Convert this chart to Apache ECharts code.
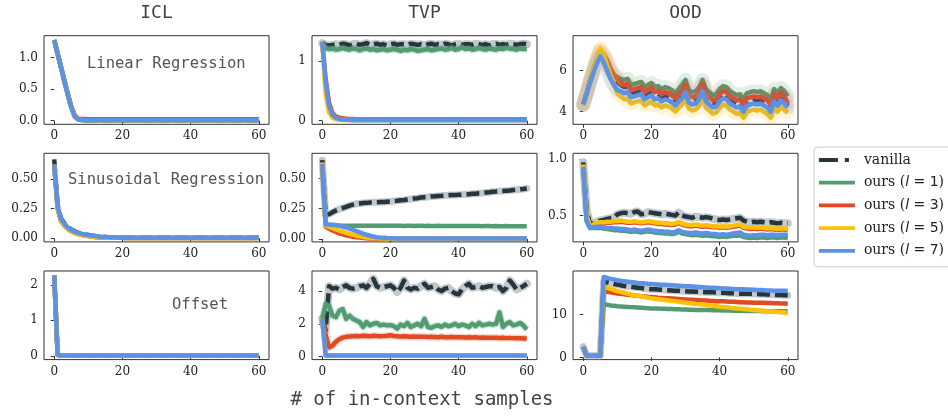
<!DOCTYPE html>
<html>
<head>
<meta charset="utf-8">
<script src="https://cdn.jsdelivr.net/npm/echarts@6/dist/echarts.min.js"></script>
<style>
  html, body { margin: 0; padding: 0; background: #ffffff; }
  #chart { width: 948px; height: 416px; }
</style>
</head>
<body>
<div id="chart"></div>
<script>
// ---------------------------------------------------------------------------
// Data: loss versus number of in-context samples (0 .. 60)
// ---------------------------------------------------------------------------
const samples = Array.from({ length: 61 }, (_, i) => i);

const columnTitles = ['ICL', 'TVP', 'OOD'];
const taskNames = ['Linear Regression', 'Sinusoidal Regression', 'Offset'];
const xTicks = [0, 20, 40, 60];

// y tick labels, one list per panel (row-major)
const yTicksLinICL = [0, 0.5, 1.0];
const yTicksLinTVP = [0, 1];
const yTicksLinOOD = [4, 6];
const yTicksSinICL = [0, 0.25, 0.5];
const yTicksSinTVP = [0, 0.25, 0.5];
const yTicksSinOOD = [0.5, 1.0];
const yTicksOffICL = [0, 1, 2];
const yTicksOffTVP = [0, 2, 4];
const yTicksOffOOD = [0, 10];

// ---- Linear regression -----------------------------------------------------
const iclLinearMain = [
  1.28, 1.06, 0.84, 0.62, 0.41, 0.21, 0.07, 0.02, 0.01, 0.008,
  0.007, 0.007, 0.007, 0.007, 0.007, 0.007, 0.007, 0.007, 0.007, 0.007,
  0.007, 0.007, 0.007, 0.007, 0.007, 0.007, 0.007, 0.007, 0.007, 0.007,
  0.007, 0.007, 0.007, 0.007, 0.007, 0.007, 0.007, 0.007, 0.007, 0.007,
  0.007, 0.007, 0.007, 0.007, 0.007, 0.007, 0.007, 0.007, 0.007, 0.007,
  0.007, 0.007, 0.007, 0.007, 0.007, 0.007, 0.007, 0.007, 0.007, 0.007,
  0.007
];
const iclLinearL3 = [
  1.28, 1.07, 0.86, 0.64, 0.43, 0.23, 0.09, 0.035, 0.028, 0.026,
  0.025, 0.025, 0.025, 0.025, 0.025, 0.025, 0.025, 0.025, 0.025, 0.025,
  0.025, 0.025, 0.025, 0.025, 0.025, 0.025, 0.025, 0.025, 0.025, 0.025,
  0.025, 0.025, 0.025, 0.025, 0.025, 0.025, 0.025, 0.025, 0.025, 0.025,
  0.025, 0.025, 0.025, 0.025, 0.025, 0.025, 0.025, 0.025, 0.025, 0.025,
  0.025, 0.025, 0.025, 0.025, 0.025, 0.025, 0.025, 0.025, 0.025, 0.025,
  0.025
];

const tvpLinearVanilla = [
  1.30, 1.27, 1.26, 1.27, 1.28, 1.27, 1.29, 1.28, 1.26, 1.28,
  1.29, 1.27, 1.28, 1.30, 1.27, 1.28, 1.29, 1.27, 1.28, 1.26,
  1.28, 1.29, 1.27, 1.28, 1.28, 1.27, 1.29, 1.28, 1.27, 1.28,
  1.26, 1.28, 1.29, 1.27, 1.28, 1.27, 1.29, 1.28, 1.26, 1.28,
  1.29, 1.27, 1.28, 1.28, 1.27, 1.29, 1.28, 1.27, 1.28, 1.26,
  1.28, 1.29, 1.27, 1.28, 1.27, 1.29, 1.28, 1.27, 1.28, 1.29,
  1.28
];
const tvpLinearL1 = [
  1.30, 1.22, 1.20, 1.21, 1.19, 1.20, 1.22, 1.20, 1.19, 1.21,
  1.20, 1.18, 1.20, 1.21, 1.19, 1.20, 1.18, 1.19, 1.20, 1.18,
  1.19, 1.20, 1.19, 1.17, 1.19, 1.18, 1.20, 1.19, 1.17, 1.18,
  1.19, 1.20, 1.18, 1.19, 1.20, 1.21, 1.19, 1.20, 1.22, 1.19,
  1.20, 1.23, 1.20, 1.21, 1.19, 1.20, 1.22, 1.20, 1.19, 1.21,
  1.20, 1.19, 1.21, 1.20, 1.22, 1.21, 1.20, 1.19, 1.21, 1.20,
  1.20
];
const tvpLinearL3 = [
  1.32, 0.70, 0.30, 0.13, 0.07, 0.05, 0.04, 0.035, 0.03, 0.028,
  0.025, 0.025, 0.025, 0.025, 0.025, 0.025, 0.025, 0.025, 0.025, 0.025,
  0.025, 0.025, 0.025, 0.025, 0.025, 0.025, 0.025, 0.025, 0.025, 0.025,
  0.025, 0.025, 0.025, 0.025, 0.025, 0.025, 0.025, 0.025, 0.025, 0.025,
  0.025, 0.025, 0.025, 0.025, 0.025, 0.025, 0.025, 0.025, 0.025, 0.025,
  0.025, 0.025, 0.025, 0.025, 0.025, 0.025, 0.025, 0.025, 0.025, 0.025,
  0.025
];
const tvpLinearL5 = [
  1.30, 0.45, 0.14, 0.05, 0.025, 0.015, 0.012, 0.01, 0.01, 0.01,
  0.01, 0.01, 0.01, 0.01, 0.01, 0.01, 0.01, 0.01, 0.01, 0.01,
  0.01, 0.01, 0.01, 0.01, 0.01, 0.01, 0.01, 0.01, 0.01, 0.01,
  0.01, 0.01, 0.01, 0.01, 0.01, 0.01, 0.01, 0.01, 0.01, 0.01,
  0.01, 0.01, 0.01, 0.01, 0.01, 0.01, 0.01, 0.01, 0.01, 0.01,
  0.01, 0.01, 0.01, 0.01, 0.01, 0.01, 0.01, 0.01, 0.01, 0.01,
  0.01
];
const tvpLinearL7 = [
  1.32, 0.65, 0.25, 0.10, 0.05, 0.03, 0.02, 0.015, 0.01, 0.008,
  0.007, 0.007, 0.007, 0.007, 0.007, 0.007, 0.007, 0.007, 0.007, 0.007,
  0.007, 0.007, 0.007, 0.007, 0.007, 0.007, 0.007, 0.007, 0.007, 0.007,
  0.007, 0.007, 0.007, 0.007, 0.007, 0.007, 0.007, 0.007, 0.007, 0.007,
  0.007, 0.007, 0.007, 0.007, 0.007, 0.007, 0.007, 0.007, 0.007, 0.007,
  0.007, 0.007, 0.007, 0.007, 0.007, 0.007, 0.007, 0.007, 0.007, 0.007,
  0.007
];

const oodLinearVanilla = [
  4.35, 4.90, 5.50, 6.05, 6.55, 6.95, 6.70, 6.30, 5.90, 5.65,
  5.45, 5.30, 5.20, 5.20, 4.90, 4.95, 5.00, 5.05, 4.80, 4.90,
  5.00, 4.80, 4.85, 4.70, 4.80, 4.75, 4.65, 4.50, 4.70, 4.85,
  5.15, 4.65, 4.55, 4.60, 4.80, 5.20, 4.70, 4.55, 4.40, 4.45,
  4.70, 4.85, 4.80, 4.60, 4.50, 4.40, 4.45, 4.20, 4.50, 4.55,
  4.60, 4.55, 4.60, 4.50, 4.40, 4.20, 4.70, 4.50, 4.75, 4.60,
  4.30
];
const oodLinearL1 = [
  4.35, 4.90, 5.50, 6.00, 6.50, 6.85, 6.60, 6.30, 6.00, 5.80,
  5.70, 5.60, 5.55, 5.60, 5.30, 5.35, 5.40, 5.45, 5.20, 5.30,
  5.40, 5.20, 5.25, 5.10, 5.20, 5.15, 5.05, 4.90, 5.10, 5.30,
  5.55, 5.05, 4.95, 5.00, 5.20, 5.55, 5.10, 4.95, 4.80, 4.85,
  5.10, 5.25, 5.20, 5.00, 4.90, 4.80, 4.85, 4.60, 4.90, 4.95,
  5.00, 4.95, 5.00, 4.90, 4.80, 4.60, 5.10, 4.90, 5.15, 5.00,
  4.75
];
const oodLinearL3 = [
  4.35, 4.90, 5.55, 6.10, 6.60, 7.00, 6.80, 6.50, 6.10, 5.80,
  5.60, 5.40, 5.30, 5.35, 5.05, 5.10, 5.15, 5.20, 4.95, 5.05,
  5.15, 4.95, 5.00, 4.85, 4.95, 4.90, 4.80, 4.65, 4.85, 5.00,
  5.30, 4.80, 4.70, 4.75, 4.95, 5.35, 4.85, 4.70, 4.55, 4.60,
  4.85, 5.00, 4.95, 4.75, 4.65, 4.55, 4.60, 4.35, 4.65, 4.70,
  4.75, 4.70, 4.75, 4.65, 4.55, 4.35, 4.85, 4.65, 4.90, 4.75,
  4.40
];
const oodLinearL5 = [
  4.30, 4.85, 5.50, 6.10, 6.60, 7.10, 6.80, 6.30, 5.80, 5.30,
  4.90, 4.75, 4.60, 4.65, 4.40, 4.45, 4.50, 4.55, 4.30, 4.40,
  4.50, 4.30, 4.35, 4.20, 4.30, 4.25, 4.15, 4.00, 4.20, 4.35,
  4.65, 4.15, 4.05, 4.10, 4.30, 4.70, 4.20, 4.05, 3.90, 3.95,
  4.20, 4.35, 4.30, 4.10, 4.00, 3.90, 3.95, 3.70, 4.00, 4.05,
  4.10, 4.05, 4.10, 4.00, 3.90, 3.70, 4.20, 4.00, 4.25, 4.10,
  3.95
];
const oodLinearL7 = [
  4.35, 4.85, 5.40, 5.90, 6.35, 6.70, 6.40, 6.00, 5.60, 5.30,
  5.05, 5.00, 4.90, 4.95, 4.70, 4.75, 4.80, 4.85, 4.60, 4.70,
  4.80, 4.60, 4.65, 4.50, 4.60, 4.55, 4.45, 4.30, 4.50, 4.65,
  4.95, 4.45, 4.35, 4.40, 4.60, 5.00, 4.50, 4.35, 4.20, 4.25,
  4.50, 4.65, 4.60, 4.40, 4.30, 4.20, 4.25, 4.00, 4.30, 4.35,
  4.40, 4.35, 4.40, 4.30, 4.20, 4.00, 4.50, 4.30, 4.55, 4.40,
  4.20
];

// ---- Sinusoidal regression -------------------------------------------------
const iclSinVanilla = [
  0.665, 0.28, 0.165, 0.125, 0.095, 0.073, 0.057, 0.047, 0.039, 0.033,
  0.028, 0.023, 0.019, 0.016, 0.013, 0.011, 0.009, 0.008, 0.007, 0.006,
  0.005, 0.004, 0.004, 0.004, 0.004, 0.004, 0.004, 0.004, 0.004, 0.004,
  0.004, 0.004, 0.004, 0.004, 0.004, 0.004, 0.004, 0.004, 0.004, 0.004,
  0.004, 0.004, 0.004, 0.004, 0.004, 0.004, 0.004, 0.004, 0.004, 0.004,
  0.004, 0.004, 0.004, 0.004, 0.004, 0.004, 0.004, 0.004, 0.004, 0.004,
  0.004
];
const iclSinLow = [
  0.62, 0.25, 0.145, 0.105, 0.078, 0.06, 0.046, 0.036, 0.029, 0.023,
  0.018, 0.014, 0.011, 0.009, 0.007, 0.006, 0.005, 0.004, 0.003, 0.003,
  0.003, 0.002, 0.002, 0.002, 0.002, 0.002, 0.002, 0.002, 0.002, 0.002,
  0.002, 0.002, 0.002, 0.002, 0.002, 0.002, 0.002, 0.002, 0.002, 0.002,
  0.002, 0.002, 0.002, 0.002, 0.002, 0.002, 0.002, 0.002, 0.002, 0.002,
  0.002, 0.002, 0.002, 0.002, 0.002, 0.002, 0.002, 0.002, 0.002, 0.002,
  0.002
];
const iclSinL7 = [
  0.62, 0.27, 0.16, 0.12, 0.09, 0.07, 0.055, 0.045, 0.038, 0.032,
  0.027, 0.022, 0.018, 0.015, 0.012, 0.010, 0.008, 0.007, 0.006, 0.005,
  0.004, 0.003, 0.003, 0.003, 0.003, 0.003, 0.003, 0.003, 0.003, 0.003,
  0.003, 0.003, 0.003, 0.003, 0.003, 0.003, 0.003, 0.003, 0.003, 0.003,
  0.003, 0.003, 0.003, 0.003, 0.003, 0.003, 0.003, 0.003, 0.003, 0.003,
  0.003, 0.003, 0.003, 0.003, 0.003, 0.003, 0.003, 0.003, 0.003, 0.003,
  0.003
];

const tvpSinVanilla = [
  0.650, 0.200, 0.205, 0.220, 0.235, 0.245, 0.255, 0.265, 0.275, 0.283,
  0.290, 0.293, 0.297, 0.298, 0.301, 0.303, 0.304, 0.306, 0.306, 0.308,
  0.310, 0.313, 0.315, 0.319, 0.322, 0.326, 0.330, 0.334, 0.337, 0.342,
  0.345, 0.347, 0.351, 0.352, 0.355, 0.356, 0.359, 0.360, 0.362, 0.362,
  0.365, 0.366, 0.369, 0.370, 0.373, 0.374, 0.378, 0.380, 0.384, 0.386,
  0.390, 0.392, 0.395, 0.396, 0.399, 0.400, 0.404, 0.406, 0.410, 0.412,
  0.416
];
const tvpSinL1 = [
  0.630, 0.120, 0.112, 0.110, 0.110, 0.109, 0.110, 0.110, 0.109, 0.110,
  0.110, 0.109, 0.110, 0.110, 0.109, 0.110, 0.109, 0.109, 0.110, 0.109,
  0.109, 0.110, 0.109, 0.109, 0.108, 0.109, 0.109, 0.108, 0.109, 0.109,
  0.108, 0.109, 0.108, 0.108, 0.109, 0.108, 0.108, 0.107, 0.108, 0.108,
  0.107, 0.108, 0.107, 0.107, 0.108, 0.107, 0.107, 0.106, 0.107, 0.107,
  0.106, 0.107, 0.106, 0.106, 0.107, 0.106, 0.106, 0.106, 0.106, 0.106,
  0.106
];
const tvpSinL3 = [
  0.630, 0.100, 0.085, 0.070, 0.058, 0.047, 0.038, 0.030, 0.024, 0.019,
  0.015, 0.012, 0.009, 0.007, 0.005, 0.004, 0.003, 0.002, 0.002, 0.002,
  0.002, 0.002, 0.002, 0.002, 0.002, 0.002, 0.002, 0.002, 0.002, 0.002,
  0.002, 0.002, 0.002, 0.002, 0.002, 0.002, 0.002, 0.002, 0.002, 0.002,
  0.002, 0.002, 0.002, 0.002, 0.002, 0.002, 0.002, 0.002, 0.002, 0.002,
  0.002, 0.002, 0.002, 0.002, 0.002, 0.002, 0.002, 0.002, 0.002, 0.002,
  0.002
];
const tvpSinL5 = [
  0.630, 0.110, 0.100, 0.090, 0.080, 0.070, 0.060, 0.050, 0.042, 0.035,
  0.028, 0.022, 0.017, 0.013, 0.010, 0.008, 0.006, 0.005, 0.004, 0.003,
  0.003, 0.003, 0.003, 0.003, 0.003, 0.003, 0.003, 0.003, 0.003, 0.003,
  0.003, 0.003, 0.003, 0.003, 0.003, 0.003, 0.003, 0.003, 0.003, 0.003,
  0.003, 0.003, 0.003, 0.003, 0.003, 0.003, 0.003, 0.003, 0.003, 0.003,
  0.003, 0.003, 0.003, 0.003, 0.003, 0.003, 0.003, 0.003, 0.003, 0.003,
  0.003
];
const tvpSinL7 = [
  0.620, 0.120, 0.120, 0.118, 0.115, 0.110, 0.103, 0.095, 0.085, 0.075,
  0.065, 0.055, 0.045, 0.035, 0.027, 0.020, 0.015, 0.012, 0.010, 0.008,
  0.007, 0.006, 0.005, 0.004, 0.004, 0.004, 0.004, 0.004, 0.004, 0.004,
  0.004, 0.004, 0.004, 0.004, 0.004, 0.004, 0.004, 0.004, 0.004, 0.004,
  0.004, 0.004, 0.004, 0.004, 0.004, 0.004, 0.004, 0.004, 0.004, 0.004,
  0.004, 0.004, 0.004, 0.004, 0.004, 0.004, 0.004, 0.004, 0.004, 0.004,
  0.004
];

const oodSinVanilla = [
  0.970, 0.550, 0.420, 0.430, 0.445, 0.455, 0.460, 0.470, 0.475, 0.480,
  0.510, 0.520, 0.525, 0.520, 0.515, 0.530, 0.535, 0.510, 0.515, 0.530,
  0.525, 0.520, 0.515, 0.510, 0.515, 0.510, 0.505, 0.500, 0.525, 0.500,
  0.490, 0.485, 0.480, 0.490, 0.485, 0.480, 0.485, 0.480, 0.470, 0.465,
  0.460, 0.465, 0.460, 0.465, 0.470, 0.475, 0.480, 0.455, 0.445, 0.440,
  0.445, 0.440, 0.445, 0.440, 0.435, 0.440, 0.435, 0.430, 0.435, 0.430,
  0.430
];
const oodSinL1 = [
  0.950, 0.450, 0.390, 0.390, 0.390, 0.390, 0.385, 0.380, 0.375, 0.370,
  0.370, 0.365, 0.365, 0.360, 0.355, 0.360, 0.355, 0.350, 0.355, 0.360,
  0.355, 0.350, 0.345, 0.345, 0.340, 0.340, 0.335, 0.340, 0.355, 0.340,
  0.335, 0.330, 0.325, 0.330, 0.325, 0.320, 0.325, 0.320, 0.315, 0.315,
  0.310, 0.315, 0.310, 0.315, 0.320, 0.320, 0.325, 0.310, 0.305, 0.300,
  0.305, 0.300, 0.305, 0.305, 0.300, 0.305, 0.305, 0.300, 0.305, 0.305,
  0.300
];
const oodSinL3 = [
  0.950, 0.490, 0.395, 0.410, 0.425, 0.430, 0.430, 0.435, 0.435, 0.440,
  0.440, 0.445, 0.440, 0.435, 0.435, 0.440, 0.435, 0.430, 0.435, 0.440,
  0.435, 0.430, 0.425, 0.425, 0.420, 0.420, 0.415, 0.420, 0.435, 0.420,
  0.410, 0.405, 0.405, 0.410, 0.405, 0.400, 0.405, 0.400, 0.395, 0.395,
  0.390, 0.395, 0.390, 0.395, 0.400, 0.405, 0.410, 0.390, 0.385, 0.380,
  0.385, 0.380, 0.385, 0.380, 0.375, 0.380, 0.375, 0.370, 0.375, 0.375,
  0.370
];
const oodSinL5 = [
  0.950, 0.500, 0.400, 0.420, 0.435, 0.440, 0.440, 0.445, 0.445, 0.450,
  0.450, 0.455, 0.450, 0.445, 0.445, 0.450, 0.445, 0.440, 0.445, 0.450,
  0.445, 0.440, 0.435, 0.435, 0.430, 0.430, 0.425, 0.430, 0.445, 0.430,
  0.420, 0.415, 0.415, 0.420, 0.415, 0.410, 0.415, 0.410, 0.405, 0.405,
  0.400, 0.405, 0.400, 0.405, 0.410, 0.415, 0.420, 0.400, 0.395, 0.390,
  0.395, 0.390, 0.395, 0.390, 0.385, 0.390, 0.385, 0.380, 0.385, 0.385,
  0.380
];
const oodSinL7 = [
  0.930, 0.450, 0.390, 0.395, 0.400, 0.400, 0.395, 0.390, 0.390, 0.385,
  0.385, 0.380, 0.380, 0.375, 0.370, 0.375, 0.370, 0.365, 0.370, 0.375,
  0.370, 0.365, 0.360, 0.360, 0.355, 0.355, 0.350, 0.355, 0.370, 0.355,
  0.350, 0.345, 0.345, 0.350, 0.345, 0.340, 0.345, 0.340, 0.335, 0.335,
  0.330, 0.335, 0.330, 0.335, 0.340, 0.345, 0.350, 0.330, 0.325, 0.320,
  0.325, 0.325, 0.330, 0.330, 0.325, 0.330, 0.330, 0.325, 0.330, 0.330,
  0.330
];

// ---- Offset ------------------------------------------------------------------
const iclOffsetMain = [
  2.27, 0.03, 0.01, 0.01, 0.01, 0.01, 0.01, 0.01, 0.01, 0.01,
  0.01, 0.01, 0.01, 0.01, 0.01, 0.01, 0.01, 0.01, 0.01, 0.01,
  0.01, 0.01, 0.01, 0.01, 0.01, 0.01, 0.01, 0.01, 0.01, 0.01,
  0.01, 0.01, 0.01, 0.01, 0.01, 0.01, 0.01, 0.01, 0.01, 0.01,
  0.01, 0.01, 0.01, 0.01, 0.01, 0.01, 0.01, 0.01, 0.01, 0.01,
  0.01, 0.01, 0.01, 0.01, 0.01, 0.01, 0.01, 0.01, 0.01, 0.01,
  0.01
];

const tvpOffsetVanilla = [
  2.30, 1.60, 4.30, 4.15, 4.20, 4.10, 4.25, 4.35, 4.20, 4.15,
  4.20, 4.30, 4.35, 4.20, 4.45, 4.75, 4.30, 4.20, 4.25, 4.30,
  4.35, 4.20, 3.95, 4.20, 4.65, 4.20, 4.10, 4.20, 4.15, 4.30,
  4.45, 4.20, 4.25, 4.30, 4.10, 4.00, 4.15, 4.20, 4.00, 3.85,
  3.80, 4.10, 4.30, 4.45, 4.20, 4.25, 4.30, 4.20, 4.25, 4.30,
  4.30, 4.20, 4.25, 4.00, 4.20, 4.65, 4.40, 4.10, 4.20, 4.30,
  4.45
];
const tvpOffsetL1 = [
  2.30, 3.20, 3.10, 2.50, 2.40, 2.80, 2.90, 2.30, 2.50, 2.30,
  2.20, 2.10, 1.80, 2.10, 1.90, 2.00, 2.05, 1.90, 1.95, 1.90,
  1.92, 1.85, 1.70, 1.95, 1.85, 2.05, 1.80, 1.90, 2.00, 1.85,
  2.30, 1.80, 1.75, 1.85, 1.90, 1.80, 1.95, 1.85, 1.90, 2.00,
  1.85, 1.95, 1.90, 1.80, 2.00, 1.85, 2.05, 1.90, 1.95, 2.00,
  1.95, 2.00, 2.70, 1.80, 2.00, 2.10, 1.90, 1.95, 2.05, 1.90,
  1.65
];
const tvpOffsetL3 = [
  2.30, 1.30, 0.55, 0.65, 0.90, 1.05, 1.15, 1.20, 1.22, 1.24,
  1.25, 1.24, 1.26, 1.25, 1.24, 1.26, 1.25, 1.24, 1.25, 1.27,
  1.30, 1.25, 1.24, 1.22, 1.23, 1.22, 1.20, 1.22, 1.21, 1.20,
  1.21, 1.19, 1.20, 1.19, 1.18, 1.20, 1.18, 1.17, 1.19, 1.18,
  1.17, 1.18, 1.16, 1.17, 1.16, 1.17, 1.15, 1.16, 1.15, 1.14,
  1.15, 1.14, 1.13, 1.14, 1.12, 1.13, 1.12, 1.11, 1.12, 1.10,
  1.09
];
const tvpOffsetL5 = [
  2.30, 0.07, 0.05, 0.05, 0.05, 0.05, 0.05, 0.05, 0.05, 0.05,
  0.05, 0.05, 0.05, 0.05, 0.05, 0.05, 0.05, 0.05, 0.05, 0.05,
  0.05, 0.05, 0.05, 0.05, 0.05, 0.05, 0.05, 0.05, 0.05, 0.05,
  0.05, 0.05, 0.05, 0.05, 0.05, 0.05, 0.05, 0.05, 0.05, 0.05,
  0.05, 0.05, 0.05, 0.05, 0.05, 0.05, 0.05, 0.05, 0.05, 0.05,
  0.05, 0.05, 0.05, 0.05, 0.05, 0.05, 0.05, 0.05, 0.05, 0.05,
  0.05
];
const tvpOffsetL7 = [
  2.30, 0.06, 0.05, 0.05, 0.05, 0.05, 0.05, 0.05, 0.05, 0.05,
  0.05, 0.05, 0.05, 0.05, 0.05, 0.05, 0.05, 0.05, 0.05, 0.05,
  0.05, 0.05, 0.05, 0.05, 0.05, 0.05, 0.05, 0.05, 0.05, 0.05,
  0.05, 0.05, 0.05, 0.05, 0.05, 0.05, 0.05, 0.05, 0.05, 0.05,
  0.05, 0.05, 0.05, 0.05, 0.05, 0.05, 0.05, 0.05, 0.05, 0.05,
  0.05, 0.05, 0.05, 0.05, 0.05, 0.05, 0.05, 0.05, 0.05, 0.05,
  0.05
];

const oodOffsetVanilla = [
  2.50, 0.40, 0.40, 0.40, 0.40, 0.40, 17.80, 17.55, 17.35, 17.15,
  17.00, 16.85, 16.70, 16.60, 16.50, 16.40, 16.30, 16.20, 16.10, 16.00,
  15.95, 15.90, 15.85, 15.80, 15.75, 15.70, 15.65, 15.60, 15.55, 15.50,
  15.45, 15.40, 15.40, 15.35, 15.30, 15.30, 15.25, 15.20, 15.20, 15.15,
  15.10, 15.10, 15.05, 15.00, 15.00, 14.95, 14.90, 14.90, 14.85, 14.85,
  14.80, 14.80, 14.75, 14.75, 14.70, 14.70, 14.65, 14.60, 14.60, 14.55,
  14.50
];
const oodOffsetL1 = [
  2.50, 0.40, 0.40, 0.40, 0.40, 0.40, 12.50, 12.30, 12.15, 12.05,
  11.95, 11.90, 11.85, 11.80, 11.75, 11.70, 11.65, 11.60, 11.55, 11.50,
  11.45, 11.40, 11.40, 11.35, 11.35, 11.30, 11.30, 11.25, 11.25, 11.20,
  11.20, 11.15, 11.15, 11.10, 11.10, 11.10, 11.05, 11.05, 11.00, 11.00,
  11.00, 10.95, 10.95, 10.95, 10.90, 10.90, 10.90, 10.90, 10.85, 10.85,
  10.85, 10.85, 10.85, 10.80, 10.80, 10.80, 10.80, 10.80, 10.80, 10.80,
  10.80
];
const oodOffsetL3 = [
  2.50, 0.40, 0.40, 0.40, 0.40, 0.40, 15.50, 15.35, 15.20, 15.05,
  14.95, 14.85, 14.75, 14.65, 14.55, 14.45, 14.40, 14.30, 14.25, 14.15,
  14.10, 14.05, 13.95, 13.90, 13.85, 13.80, 13.75, 13.70, 13.65, 13.60,
  13.55, 13.50, 13.45, 13.40, 13.35, 13.30, 13.30, 13.25, 13.20, 13.15,
  13.10, 13.10, 13.05, 13.00, 13.00, 12.95, 12.90, 12.90, 12.85, 12.85,
  12.80, 12.80, 12.75, 12.75, 12.70, 12.70, 12.65, 12.65, 12.60, 12.60,
  12.55
];
const oodOffsetL5 = [
  2.50, 0.40, 0.40, 0.40, 0.40, 0.40, 16.60, 16.30, 16.00, 15.75,
  15.50, 15.30, 15.10, 14.90, 14.70, 14.55, 14.40, 14.25, 14.10, 13.95,
  13.80, 13.70, 13.60, 13.50, 13.40, 13.30, 13.20, 13.10, 13.00, 12.90,
  12.80, 12.70, 12.60, 12.50, 12.45, 12.35, 12.25, 12.15, 12.05, 11.95,
  11.85, 11.80, 11.70, 11.60, 11.55, 11.45, 11.40, 11.30, 11.25, 11.15,
  11.10, 11.00, 10.95, 10.90, 10.80, 10.75, 10.70, 10.60, 10.55, 10.50,
  10.40
];
const oodOffsetL7 = [
  2.50, 0.40, 0.40, 0.40, 0.40, 0.40, 18.80, 18.55, 18.35, 18.20,
  18.05, 17.90, 17.80, 17.70, 17.60, 17.50, 17.40, 17.35, 17.30, 17.20,
  17.15, 17.10, 17.05, 17.00, 16.95, 16.90, 16.85, 16.80, 16.75, 16.70,
  16.65, 16.60, 16.55, 16.50, 16.45, 16.40, 16.35, 16.30, 16.25, 16.20,
  16.15, 16.10, 16.10, 16.05, 16.00, 15.95, 15.95, 15.90, 15.85, 15.85,
  15.80, 15.75, 15.75, 15.70, 15.65, 15.65, 15.60, 15.60, 15.55, 15.55,
  15.50
];

// ---------------------------------------------------------------------------
// Styling
// ---------------------------------------------------------------------------
const SERIES_KEYS = ['vanilla', 'l1', 'l3', 'l5', 'l7'];
const SERIES_NAMES = {
  vanilla: 'vanilla', l1: 'ours (l = 1)', l3: 'ours (l = 3)', l5: 'ours (l = 5)', l7: 'ours (l = 7)'
};
const SERIES_COLORS = {
  vanilla: '#25363f', l1: '#529c72', l3: '#e24a22', l5: '#fec10a', l7: '#5b92e5'
};
const MONO = '"DejaVu Sans Mono", monospace';
const SERIF = '"DejaVu Serif", serif';
const LINE_WIDTH = 4.5;

const COL_LEFT = [44, 312, 573];
const COL_WIDTH = 225;
const ROW_TOP = [35.7, 153.3, 271];
const ROW_HEIGHT = 88.6;

// panel layout: row, col, series arrays, y-range, tick list and decimals
const panels = [
  { r: 0, c: 0, s: { vanilla: iclLinearMain, l1: iclLinearMain, l3: iclLinearL3, l5: iclLinearMain, l7: iclLinearMain },
    min: -0.057, max: 1.349, ticks: yTicksLinICL, dec: 1, greyHalo: 0 },
  { r: 0, c: 1, s: { vanilla: tvpLinearVanilla, l1: tvpLinearL1, l3: tvpLinearL3, l5: tvpLinearL5, l7: tvpLinearL7 },
    min: -0.06, max: 1.424, ticks: yTicksLinTVP, dec: 0, greyHalo: 8, halo: { l1: 0.3 } },
  { r: 0, c: 2, s: { vanilla: oodLinearVanilla, l1: oodLinearL1, l3: oodLinearL3, l5: oodLinearL5, l7: oodLinearL7 },
    min: 3.385, max: 7.707, ticks: yTicksLinOOD, dec: 0, greyHalo: 0, band: true },
  { r: 1, c: 0, s: { vanilla: iclSinVanilla, l1: iclSinLow, l3: iclSinLow, l5: iclSinLow, l7: iclSinL7 },
    min: -0.031, max: 0.716, ticks: yTicksSinICL, dec: 2, greyHalo: 0 },
  { r: 1, c: 1, s: { vanilla: tvpSinVanilla, l1: tvpSinL1, l3: tvpSinL3, l5: tvpSinL5, l7: tvpSinL7 },
    min: -0.024, max: 0.707, ticks: yTicksSinTVP, dec: 2, greyHalo: 7 },
  { r: 1, c: 2, s: { vanilla: oodSinVanilla, l1: oodSinL1, l3: oodSinL3, l5: oodSinL5, l7: oodSinL7 },
    min: 0.266, max: 1.05, ticks: yTicksSinOOD, dec: 1, greyHalo: 8 },
  { r: 2, c: 0, s: { vanilla: iclOffsetMain, l1: iclOffsetMain, l3: iclOffsetMain, l5: iclOffsetMain, l7: iclOffsetMain },
    min: -0.106, max: 2.387, ticks: yTicksOffICL, dec: 0, greyHalo: 0 },
  { r: 2, c: 1, s: { vanilla: tvpOffsetVanilla, l1: tvpOffsetL1, l3: tvpOffsetL3, l5: tvpOffsetL5, l7: tvpOffsetL7 },
    min: -0.195, max: 5.23, ticks: yTicksOffTVP, dec: 0, greyHalo: 8, halo: { l1: 0.25, l3: 0.25 } },
  { r: 2, c: 2, s: { vanilla: oodOffsetVanilla, l1: oodOffsetL1, l3: oodOffsetL3, l5: oodOffsetL5, l7: oodOffsetL7 },
    min: -0.51, max: 20.19, ticks: yTicksOffOOD, dec: 0, greyHalo: 7 }
];

const toPoints = arr => arr.map((v, i) => [samples[i], v]);

const grids = [], xAxes = [], yAxes = [], series = [];

panels.forEach((p, i) => {
  grids.push({
    left: COL_LEFT[p.c], top: ROW_TOP[p.r], width: COL_WIDTH, height: ROW_HEIGHT,
    show: true, borderColor: '#333333', borderWidth: 1, backgroundColor: 'transparent'
  });
  const tickStyle = { show: true, inside: false, length: 3.5, lineStyle: { color: '#333333', width: 1 } };
  const labelStyle = { fontFamily: SERIF, fontSize: 12, color: '#222222' };
  xAxes.push({
    gridIndex: i, type: 'value', min: -3, max: 63,
    axisLine: { show: false }, splitLine: { show: false },
    axisTick: Object.assign({ customValues: xTicks }, tickStyle),
    axisLabel: Object.assign({ customValues: xTicks, margin: 6, formatter: v => String(v) }, labelStyle)
  });
  yAxes.push({
    gridIndex: i, type: 'value', min: p.min, max: p.max,
    axisLine: { show: false }, splitLine: { show: false },
    axisTick: Object.assign({ customValues: p.ticks }, tickStyle),
    axisLabel: Object.assign({ customValues: p.ticks, margin: 6, formatter: v => Number(v).toFixed(p.dec) }, labelStyle)
  });

  SERIES_KEYS.forEach(k => {
    const data = toPoints(p.s[k]);
    const base = {
      type: 'line', xAxisIndex: i, yAxisIndex: i, data: data,
      symbol: 'none', showSymbol: false, animation: false, silent: true, clip: true
    };
    // translucent spread band drawn beneath the mean curve
    if (p.band && k !== 'vanilla') {
      series.push(Object.assign({}, base, {
        name: 'spread-' + k,
        lineStyle: { color: SERIES_COLORS[k], width: 14, opacity: 0.17, join: 'round', cap: 'round' }
      }));
    }
    if (k === 'vanilla' && p.greyHalo > 0) {
      series.push(Object.assign({}, base, {
        name: 'spread-vanilla-core',
        lineStyle: { color: '#c3c8ca', width: p.greyHalo, join: 'round', cap: 'round' }
      }));
    } else if (p.halo && p.halo[k]) {
      series.push(Object.assign({}, base, {
        name: 'spread-halo-' + k,
        lineStyle: { color: SERIES_COLORS[k], width: 7, opacity: p.halo[k], join: 'round' }
      }));
    }
    series.push(Object.assign({}, base, {
      name: SERIES_NAMES[k],
      lineStyle: k === 'vanilla'
        ? { color: SERIES_COLORS[k], width: LINE_WIDTH, type: [13, 5], cap: 'butt', join: 'round' }
        : { color: SERIES_COLORS[k], width: LINE_WIDTH, join: 'round', cap: 'butt' },
      itemStyle: { color: SERIES_COLORS[k] }
    }));
  });
});

const graphics = [];
columnTitles.forEach((t, c) => {
  graphics.push({
    type: 'text', x: COL_LEFT[c] + COL_WIDTH / 2, y: 13.5, silent: true,
    style: { text: t, fontFamily: MONO, fontSize: 18, fill: '#444444',
             align: 'center', verticalAlign: 'middle', textAlign: 'center', textVerticalAlign: 'middle' }
  });
});
const taskLabelPos = [[87, 63.5], [68, 180], [172, 305]];
taskNames.forEach((t, r) => {
  graphics.push({
    type: 'text', x: taskLabelPos[r][0], y: taskLabelPos[r][1], silent: true, z: 100,
    style: { text: t, fontFamily: MONO, fontSize: 15.5, fill: '#555555',
             align: 'left', verticalAlign: 'middle', textAlign: 'left', textVerticalAlign: 'middle' }
  });
});
graphics.push({
  type: 'text', x: 422, y: 400, silent: true,
  style: { text: '# of in-context samples', fontFamily: MONO, fontSize: 19, fill: '#444444',
           align: 'center', verticalAlign: 'middle', textAlign: 'center', textVerticalAlign: 'middle' }
});

const chart = echarts.init(document.getElementById('chart'), null, { renderer: 'canvas' });
chart.setOption({
  backgroundColor: '#ffffff',
  animation: false,
  grid: grids,
  xAxis: xAxes,
  yAxis: yAxes,
  series: series,
  graphic: graphics,
  legend: {
    orient: 'vertical', left: 814, top: 147,
    padding: [6, 8, 9, 3], itemGap: 8.7, itemWidth: 36, itemHeight: 14,
    backgroundColor: 'rgba(255,255,255,0.85)', borderColor: '#cccccc', borderWidth: 1, borderRadius: 4,
    selectedMode: false,
    data: [
      { name: 'vanilla', lineStyle: { type: [19, 7, 4, 7] } },
      { name: 'ours (l = 1)' }, { name: 'ours (l = 3)' }, { name: 'ours (l = 5)' }, { name: 'ours (l = 7)' }
    ],
    lineStyle: { width: 3.8 },
    itemStyle: { opacity: 0 },
    textStyle: {
      fontFamily: SERIF, fontSize: 14, color: '#222222', padding: [0, 0, 0, 4],
      rich: {
        it: { fontFamily: '"DejaVu Sans", sans-serif', fontStyle: 'italic', fontSize: 14, color: '#222222' },
        m: { fontFamily: '"DejaVu Sans", sans-serif', fontSize: 14, color: '#222222' }
      }
    },
    formatter: name => name.replace(/\(l = (\d)\)/, '({it|l}{m| = $1})')
  }
});
</script>
</body>
</html>
